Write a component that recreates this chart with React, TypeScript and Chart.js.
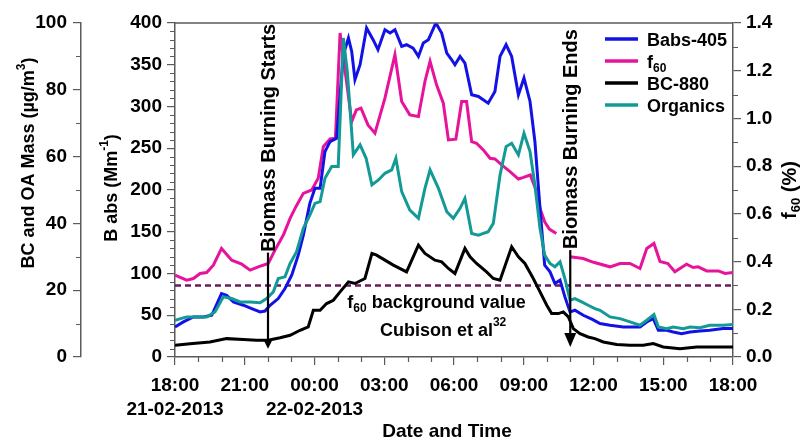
import React, { useEffect, useRef } from 'react';
import { Chart, registerables } from 'chart.js';

Chart.register(...registerables);

const FONT = '"Liberation Sans", Arial, Helvetica, sans-serif';
const AXIS = '#5a5a5a';

// x axis: hours since 18:00 on 21-02-2013
const timeTickLabels = ['18:00', '21:00', '00:00', '03:00', '06:00', '09:00', '12:00', '15:00', '18:00'];
const dateTickLabels = ['21-02-2013', '', '22-02-2013', '', '', '', '', '', ''];

// Babs-405 (Mm-1)
const babsHours = [0, 0.36, 0.79, 1.22, 1.58, 2.0, 2.22, 2.51, 2.94, 3.3, 3.66, 3.87, 4.09, 4.44, 4.73, 5.02, 5.3, 5.52, 5.8, 6.02, 6.24, 6.45, 6.67, 6.95, 7.24, 7.46, 7.6, 7.74, 7.96, 8.24, 8.52, 8.73, 9.03, 9.25, 9.46, 9.75, 9.96, 10.24, 10.47, 10.68, 10.9, 11.22, 11.47, 11.69, 11.9, 12.04, 12.26, 12.47, 12.76, 13.05, 13.47, 13.76, 13.98, 14.24, 14.48, 14.77, 15.01, 15.27, 15.48, 15.7, 15.9, 16.13, 16.34, 16.56, 16.77, 16.99, 17.2, 17.56, 17.95, 18.28, 18.71, 19.28, 19.71, 20.0, 20.29, 20.57, 20.79, 21.15, 21.43, 21.79, 22.15, 22.58, 23.0, 23.58, 24.0];
const babsValues = [36, 42, 48, 48, 50, 76, 74, 66, 62, 58, 54, 55, 62, 70, 82, 98, 122, 146, 184, 202, 202, 246, 258, 262, 362, 382, 366, 332, 350, 394, 380, 368, 392, 388, 392, 372, 374, 370, 360, 376, 380, 400, 388, 364, 356, 350, 360, 352, 314, 312, 304, 318, 360, 374, 360, 314, 334, 306, 258, 178, 110, 102, 88, 92, 72, 54, 56, 50, 45, 40, 38, 36, 36, 36, 42, 46, 32, 32, 30, 28, 30, 31, 32, 34, 34];

// f60 (%)
const f60Hours = [0, 0.5, 0.79, 1.08, 1.36, 1.65, 2.0, 2.44, 2.87, 3.23, 3.58, 4.01, 4.3, 4.66, 4.95, 5.2, 5.52, 5.88, 6.16, 6.38, 6.67, 6.9, 7.1, 7.32, 7.6, 7.8, 8.0, 8.3, 8.6, 9.03, 9.46, 9.75, 10.1, 10.47, 10.75, 10.97, 11.25, 11.54, 11.76, 12.08, 12.33, 12.54, 12.76, 12.97, 13.26, 13.55, 13.76, 14.05, 14.41, 14.77, 14.99, 15.28, 15.5, 15.7, 15.9, 16.1, 16.4, 16.7, 16.99, 17.56, 18.0, 18.71, 19.14, 19.57, 20.0, 20.29, 20.6, 20.86, 21.2, 21.5, 22.0, 22.29, 22.5, 22.87, 23.37, 23.66, 24.0];
const f60Values = [0.343, 0.322, 0.329, 0.35, 0.354, 0.385, 0.455, 0.406, 0.389, 0.364, 0.378, 0.392, 0.448, 0.511, 0.581, 0.63, 0.686, 0.7, 0.749, 0.882, 0.914, 0.917, 1.358, 1.197, 0.987, 1.036, 1.043, 0.973, 0.938, 1.085, 1.267, 1.071, 1.015, 1.008, 1.155, 1.239, 1.141, 1.064, 0.91, 0.913, 1.071, 1.071, 0.903, 0.896, 0.868, 0.833, 0.83, 0.805, 0.777, 0.746, 0.753, 0.763, 0.707, 0.623, 0.567, 0.536, 0.518, null, 0.42, 0.413, 0.397, 0.378, 0.392, 0.392, 0.371, 0.455, 0.476, 0.4, 0.392, 0.357, 0.389, 0.375, 0.378, 0.361, 0.361, 0.35, 0.354];

// BC-880 (ug/m3)
const bcHours = [0, 0.65, 1.5, 2.22, 2.94, 3.51, 4.01, 4.52, 4.95, 5.38, 5.73, 5.95, 6.24, 6.52, 6.81, 7.1, 7.46, 7.74, 8.17, 8.47, 8.67, 9.03, 9.39, 9.96, 10.47, 10.75, 11.18, 11.47, 11.76, 12.04, 12.47, 12.69, 12.97, 13.4, 13.69, 13.98, 14.48, 14.77, 15.05, 15.41, 15.7, 15.99, 16.2, 16.49, 16.7, 16.92, 17.13, 17.42, 17.77, 18.06, 18.42, 19.0, 19.57, 20.14, 20.57, 21.0, 21.72, 22.44, 23.0, 24.0];
const bcValues = [3.5, 4, 4.5, 5.5, 5.25, 5, 5, 5.75, 6.5, 8, 9, 14, 14, 16, 17, 19.5, 22.5, 22, 23.5, 31, 30.5, 29, 27.5, 25.5, 33.5, 31, 29, 28.5, 26.5, 25, 32.5, 30, 28, 25.5, 23.5, 23, 33, 30, 28, 23.5, 19.5, 15.5, 13, 13, 13.5, 12, 8.5, 7, 6, 5.5, 4.5, 3.75, 3.5, 3.5, 4, 3, 2.5, 3, 3, 3];

// Organics (ug/m3)
const orgHours = [0, 0.5, 0.93, 1.36, 1.72, 2.08, 2.44, 2.8, 3.23, 3.66, 3.94, 4.23, 4.44, 4.73, 4.95, 5.23, 5.52, 5.8, 6.02, 6.24, 6.45, 6.74, 7.02, 7.24, 7.41, 7.67, 7.96, 8.22, 8.47, 8.75, 9.03, 9.32, 9.5, 9.75, 10.1, 10.47, 10.75, 10.97, 11.33, 11.69, 11.97, 12.26, 12.47, 12.76, 13.05, 13.47, 13.69, 13.98, 14.24, 14.48, 14.77, 15.01, 15.27, 15.48, 15.7, 15.9, 16.13, 16.34, 16.56, 16.77, 16.99, 17.2, 17.49, 17.77, 18.06, 18.28, 18.71, 19.14, 19.57, 20.0, 20.29, 20.6, 20.79, 21.15, 21.43, 21.86, 22.15, 22.58, 23.0, 23.58, 24.0];
const orgValues = [11, 12, 12, 12, 13.5, 18, 17.5, 16.5, 16.5, 16.25, 17.5, 19.5, 23.5, 24, 28, 31.5, 38.5, 42.5, 46, 46.5, 53.5, 57, 57, 95.5, 85.5, 60.5, 63.5, 59.5, 51.5, 53, 55, 56, 59.5, 49.5, 44, 41.5, 50.5, 56, 50.5, 43.5, 41.5, 44.5, 47.5, 37, 36.5, 37.5, 40, 54.5, 63, 64, 60.5, 67, 61.5, 51.5, 38.5, 30.5, 28, 27, 28.5, 23.5, 17, 17.5, 16.5, 15.5, 14.5, 14, 12, 11.5, 10.5, 9.5, 11, 12.75, 9, 8.5, 9, 8.5, 9, 8.75, 9.5, 9.5, 9.75];

const f60Background = 0.3;
const burnStartHour = 4;
const burnEndHour = 17;
const startArrowBabs = [125, 10];
const endArrowBabs = [128, 12];

const COLORS = {
  babs: '#1212e6',
  f60: '#e6149b',
  bc: '#000000',
  org: '#149a96',
  bg: '#6a1b5a',
};

type Part = [string, number, number];

function drawParts(ctx: CanvasRenderingContext2D, parts: Part[], x: number, y: number, align: string) {
  let w = 0;
  for (const p of parts) {
    ctx.font = `bold ${p[1]}px ${FONT}`;
    w += ctx.measureText(p[0]).width;
  }
  let cx = align === 'center' ? x - w / 2 : align === 'right' ? x - w : x;
  ctx.textAlign = 'left';
  ctx.textBaseline = 'alphabetic';
  for (const p of parts) {
    ctx.font = `bold ${p[1]}px ${FONT}`;
    ctx.fillText(p[0], cx, y + p[2]);
    cx += ctx.measureText(p[0]).width;
  }
}

function drawArrow(ctx: CanvasRenderingContext2D, x: number, y0: number, y1: number, hw: number, hl: number) {
  ctx.lineWidth = 2.2;
  ctx.beginPath();
  ctx.moveTo(x, y0);
  ctx.lineTo(x, y1 - hl + 1);
  ctx.stroke();
  ctx.beginPath();
  ctx.moveTo(x - hw, y1 - hl);
  ctx.lineTo(x + hw, y1 - hl);
  ctx.lineTo(x, y1);
  ctx.closePath();
  ctx.fill();
}

const decorPlugin = {
  id: 'decor',
  afterDraw(chart: any) {
    const { ctx, chartArea } = chart;
    const sx = chart.scales.x;
    const yb = chart.scales.yBabs;
    const ym = chart.scales.yMass;
    const yf = chart.scales.yF60;
    const { left, right, top, bottom } = chartArea;
    ctx.save();

    // top frame
    ctx.strokeStyle = AXIS;
    ctx.lineWidth = 1.5;
    ctx.beginPath();
    ctx.moveTo(left, top);
    ctx.lineTo(right, top);
    ctx.stroke();

    // minor ticks
    ctx.lineWidth = 1.2;
    ctx.beginPath();
    for (let h = 0; h <= 24; h++) {
      if (h % 3 === 0) continue;
      const p = Math.round(sx.getPixelForValue(h)) + 0.5;
      ctx.moveTo(p, bottom);
      ctx.lineTo(p, bottom + 5);
    }
    for (let v = 0; v <= 400; v += 10) {
      if (v % 50 === 0) continue;
      const p = Math.round(yb.getPixelForValue(v)) + 0.5;
      ctx.moveTo(left - 5, p);
      ctx.lineTo(left, p);
    }
    for (let v = 10; v <= 100; v += 20) {
      const p = Math.round(ym.getPixelForValue(v)) + 0.5;
      ctx.moveTo(ym.right - 5, p);
      ctx.lineTo(ym.right, p);
    }
    for (let i = 1; i <= 13; i += 2) {
      const p = Math.round(yf.getPixelForValue(i / 10)) + 0.5;
      ctx.moveTo(right, p);
      ctx.lineTo(right + 5, p);
    }
    ctx.stroke();

    // burning arrows and labels
    ctx.fillStyle = '#000';
    ctx.strokeStyle = '#000';
    const xs = sx.getPixelForValue(burnStartHour);
    const ys0 = yb.getPixelForValue(startArrowBabs[0]);
    drawArrow(ctx, xs, ys0, yb.getPixelForValue(startArrowBabs[1]), 4, 8);
    const xe = sx.getPixelForValue(burnEndHour);
    const ye0 = yb.getPixelForValue(endArrowBabs[0]);
    drawArrow(ctx, xe, ye0, yb.getPixelForValue(endArrowBabs[1]), 6, 14);

    ctx.font = `bold 20px ${FONT}`;
    ctx.textAlign = 'left';
    ctx.textBaseline = 'middle';
    ctx.save();
    ctx.translate(xs + 1, ys0 - 1);
    ctx.rotate(-Math.PI / 2);
    ctx.fillText('Biomass Burning Starts', 0, 0);
    ctx.restore();
    ctx.save();
    ctx.translate(xe + 1, ye0 - 1);
    ctx.rotate(-Math.PI / 2);
    ctx.fillText('Biomass Burning Ends', 0, 0);
    ctx.restore();

    // background value note
    const yd = yf.getPixelForValue(f60Background);
    drawParts(ctx, [['f', 18, 0], ['60', 12, 4], [' background value', 18, 0]], sx.getPixelForValue(11.25), yd + 23, 'center');
    drawParts(ctx, [['Cubison et al', 18, 0], ['32', 12, -10]], sx.getPixelForValue(11.53), yd + 51, 'center');

    // legend
    const items: { c: string; parts: Part[] }[] = [
      { c: COLORS.babs, parts: [['Babs-405', 18, 0]] },
      { c: COLORS.f60, parts: [['f', 18, 0], ['60', 12, 4]] },
      { c: COLORS.bc, parts: [['BC-880', 18, 0]] },
      { c: COLORS.org, parts: [['Organics', 18, 0]] },
    ];
    items.forEach((it, i) => {
      const y = top + 16 + 22 * i;
      ctx.strokeStyle = it.c;
      ctx.lineWidth = 3.5;
      ctx.beginPath();
      ctx.moveTo(right - 128, y);
      ctx.lineTo(right - 95, y);
      ctx.stroke();
      ctx.fillStyle = '#000';
      drawParts(ctx, it.parts, right - 86, y + 6.5, 'left');
    });

    // axis titles
    const midY = (top + bottom) / 2;
    ctx.fillStyle = '#000';
    ctx.save();
    ctx.translate(ym.left + 28, midY - 27);
    ctx.rotate(-Math.PI / 2);
    drawParts(ctx, [['BC and OA Mass (\u00b5g/m', 18, 0], ['3', 12, -9], [')', 18, 0]], 0, 6, 'center');
    ctx.restore();
    ctx.save();
    ctx.translate(yb.left + 30, midY - 2);
    ctx.rotate(-Math.PI / 2);
    drawParts(ctx, [['B abs (Mm', 18, 0], ['-1', 12, -9], [')', 18, 0]], 0, 6, 'center');
    ctx.restore();
    ctx.save();
    ctx.translate(yf.left + 57, midY);
    ctx.rotate(-Math.PI / 2);
    drawParts(ctx, [['f', 20, 0], ['60', 13, 4], [' (%)', 20, 0]], 0, 6, 'center');
    ctx.restore();
    drawParts(ctx, [['Date and Time', 19, 0]], 447, sx.bottom - 3, 'center');

    ctx.restore();
  },
};

const pts = (hs: number[], vs: (number | null)[]) => hs.map((h, i) => ({ x: h, y: vs[i] }));

export default function App() {
  const ref = useRef<HTMLCanvasElement | null>(null);
  useEffect(() => {
    if (!ref.current) return;
    const tickFont = { family: FONT, size: 19, weight: 'bold' as const, lineHeight: 1.25 };
    const axisCommon = {
      border: { display: true, color: AXIS, width: 1.5 },
      grid: { display: true, drawOnChartArea: false, drawTicks: true, color: AXIS, tickLength: 8, lineWidth: 1.2 },
    };
    const chart = new Chart(ref.current, {
      type: 'line',
      data: {
        datasets: [
          { label: 'Organics', data: pts(orgHours, orgValues), yAxisID: 'yMass', borderColor: COLORS.org, borderWidth: 3 },
          { label: 'Babs-405', data: pts(babsHours, babsValues), yAxisID: 'yBabs', borderColor: COLORS.babs, borderWidth: 3 },
          { label: 'f60', data: pts(f60Hours, f60Values), yAxisID: 'yF60', borderColor: COLORS.f60, borderWidth: 3, spanGaps: false },
          { label: 'BC-880', data: pts(bcHours, bcValues), yAxisID: 'yMass', borderColor: COLORS.bc, borderWidth: 3 },
          { label: 'bg', data: pts([0, 24], [f60Background, f60Background]), yAxisID: 'yF60', borderColor: COLORS.bg, borderWidth: 2.5, borderDash: [6, 4] },
        ],
      },
      options: {
        animation: false,
        responsive: false,
        devicePixelRatio: 1,
        events: [],
        layout: { padding: { top: 23, left: 0, right: 0, bottom: 0 } },
        elements: { point: { radius: 0 }, line: { tension: 0, fill: false } },
        plugins: { legend: { display: false }, tooltip: { enabled: false }, title: { display: false } },
        scales: {
          x: {
            type: 'linear',
            position: 'bottom',
            min: 0,
            max: 24,
            ...axisCommon,
            afterFit: (s: any) => { s.height = 83; },
            ticks: {
              stepSize: 3,
              autoSkip: false,
              maxRotation: 0,
              padding: 9,
              color: '#000',
              font: tickFont,
              callback: (v: any) => {
                const i = Math.round(Number(v) / 3);
                return dateTickLabels[i] ? [timeTickLabels[i], dateTickLabels[i]] : timeTickLabels[i];
              },
            },
          },
          yMass: {
            type: 'linear',
            position: 'left',
            weight: 1,
            min: 0,
            max: 100,
            ...axisCommon,
            afterFit: (s: any) => { s.width = 81; },
            ticks: { stepSize: 20, padding: 6, color: '#000', font: tickFont },
          },
          yBabs: {
            type: 'linear',
            position: 'left',
            weight: 0,
            min: 0,
            max: 400,
            ...axisCommon,
            afterFit: (s: any) => { s.width = 94; },
            ticks: { stepSize: 50, padding: 5, color: '#000', font: tickFont },
          },
          yF60: {
            type: 'linear',
            position: 'right',
            min: 0,
            max: 1.4,
            ...axisCommon,
            afterFit: (s: any) => { s.width = 70; },
            ticks: { stepSize: 0.2, padding: 5, color: '#000', font: tickFont, callback: (v: any) => Number(v).toFixed(1) },
          },
        },
      },
      plugins: [decorPlugin],
    } as any);
    return () => chart.destroy();
  }, []);
  return (
    <div style={{ position: 'fixed', left: 0, top: 0, width: 803, height: 440, background: '#fff' }}>
      <canvas ref={ref} width={803} height={440} style={{ display: 'block', width: 803, height: 440 }} />
    </div>
  );
}
